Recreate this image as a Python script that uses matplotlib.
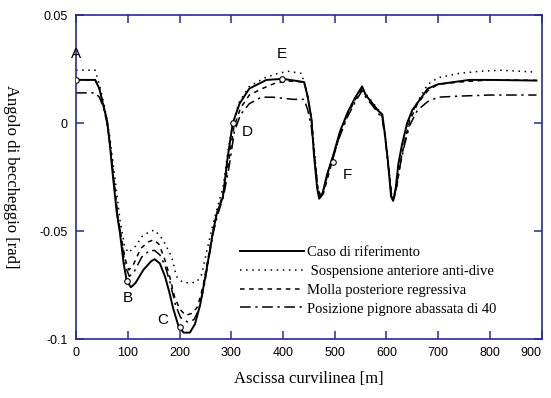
import matplotlib
matplotlib.use('Agg')
import matplotlib.pyplot as plt

# ── Data ───────────────────────────────────────────────────────────────────────
ref_x = [0, 37, 45, 50, 60, 65, 71, 79, 85, 92, 98, 106, 115, 130, 145, 152, 162, 172,
         180, 188, 198, 208, 220, 230, 240, 250, 258, 265, 272, 284, 293, 303, 316, 335,
         368, 400, 441, 448, 455, 460, 466, 470, 476, 485, 497, 510, 525, 540, 553, 560,
         570, 583, 592, 597, 603, 609, 613, 618, 623, 630, 640, 650, 665, 680, 700, 730,
         760, 800, 890]
ref_y = [0.020, 0.020, 0.016, 0.011, 0.001, -0.009, -0.024, -0.042, -0.051, -0.065, -0.073,
         -0.076, -0.074, -0.068, -0.064, -0.063, -0.065, -0.071, -0.078, -0.086, -0.094,
         -0.097, -0.097, -0.093, -0.084, -0.071, -0.060, -0.050, -0.042, -0.034, -0.016,
         0.000, 0.009, 0.016, 0.020, 0.0205, 0.019, 0.012, 0.002, -0.015, -0.030, -0.035,
         -0.033, -0.024, -0.015, -0.004, 0.005, 0.012, 0.017, 0.013, 0.010, 0.006, 0.004,
         -0.005, -0.018, -0.034, -0.036, -0.030, -0.019, -0.010, 0.000, 0.006, 0.011,
         0.016, 0.018, 0.019, 0.020, 0.020, 0.0197]

dive_x = [0, 37, 45, 55, 65, 75, 85, 94, 101, 115, 129, 145, 152, 168, 185, 194, 206,
          220, 233, 243, 252, 262, 272, 284, 293, 303, 316, 335, 365, 390, 410, 436, 446,
          455, 462, 468, 474, 480, 490, 500, 512, 526, 540, 553, 562, 572, 585, 592, 598,
          604, 610, 614, 620, 627, 635, 645, 660, 680, 700, 740, 780, 820, 890]
dive_y = [0.0245, 0.0245, 0.018, 0.008, -0.006, -0.025, -0.045, -0.057, -0.060, -0.057,
          -0.052, -0.050, -0.0495, -0.054, -0.062, -0.071, -0.0737, -0.074, -0.0737,
          -0.070, -0.060, -0.0495, -0.040, -0.030, -0.014, 0.000, 0.010, 0.017, 0.021,
          0.023, 0.024, 0.023, 0.014, 0.002, -0.016, -0.031, -0.034, -0.030, -0.020,
          -0.013, -0.004, 0.005, 0.011, 0.016, 0.013, 0.010, 0.006, 0.003, -0.007,
          -0.020, -0.033, -0.035, -0.028, -0.018, -0.008, 0.002, 0.010, 0.018, 0.021,
          0.023, 0.024, 0.0245, 0.0236]

spring_x = [0, 37, 45, 50, 60, 65, 72, 80, 87, 95, 102, 110, 125, 140, 150, 160, 170,
            180, 190, 200, 212, 225, 235, 245, 255, 263, 272, 284, 295, 305, 318, 335,
            360, 385, 410, 441, 448, 455, 461, 467, 473, 479, 488, 497, 510, 525, 540,
            553, 560, 570, 583, 592, 598, 604, 610, 614, 620, 627, 635, 645, 660, 680,
            700, 740, 800, 890]
spring_y = [0.020, 0.020, 0.016, 0.011, 0.001, -0.009, -0.024, -0.042, -0.052, -0.063,
            -0.068, -0.066, -0.058, -0.055, -0.054, -0.056, -0.062, -0.070, -0.080,
            -0.086, -0.089, -0.088, -0.085, -0.076, -0.063, -0.052, -0.042, -0.033,
            -0.018, -0.002, 0.007, 0.013, 0.016, 0.0185, 0.0195, 0.019, 0.012, 0.002,
            -0.015, -0.030, -0.035, -0.032, -0.024, -0.016, -0.005, 0.004, 0.011, 0.016,
            0.013, 0.010, 0.006, 0.003, -0.007, -0.020, -0.034, -0.036, -0.029, -0.018,
            -0.009, 0.001, 0.009, 0.015, 0.018, 0.019, 0.020, 0.0198]

pinion_x = [0, 37, 45, 52, 60, 65, 72, 80, 87, 95, 103, 112, 127, 142, 152, 162, 172,
            182, 192, 202, 215, 228, 238, 248, 257, 265, 273, 285, 296, 306, 318, 335,
            358, 380, 420, 441, 448, 455, 461, 467, 473, 479, 488, 497, 510, 525, 540,
            553, 560, 570, 583, 592, 598, 604, 610, 614, 620, 627, 635, 645, 660, 680,
            700, 740, 800, 890]
pinion_y = [0.014, 0.014, 0.012, 0.008, 0.000, -0.009, -0.024, -0.042, -0.053, -0.066,
            -0.071, -0.069, -0.062, -0.059, -0.059, -0.061, -0.066, -0.074, -0.084,
            -0.090, -0.092, -0.091, -0.086, -0.075, -0.062, -0.051, -0.043, -0.034,
            -0.020, -0.004, 0.004, 0.009, 0.012, 0.012, 0.011, 0.011, 0.006, -0.002,
            -0.016, -0.030, -0.034, -0.031, -0.022, -0.016, -0.006, 0.003, 0.010, 0.015,
            0.012, 0.009, 0.005, 0.002, -0.008, -0.021, -0.034, -0.035, -0.029, -0.019,
            -0.010, -0.001, 0.006, 0.010, 0.012, 0.0125, 0.013, 0.013]

point_labels = ['A', 'B', 'C', 'D', 'E', 'F']
point_x = [0, 98, 200, 303, 399, 497]
point_y = [0.020, -0.073, -0.0945, 0.000, 0.0205, -0.018]
label_x = [0, 100, 168, 331, 397, 524]
label_y = [0.032, -0.081, -0.0912, -0.0042, 0.032, -0.024]

series_names = ['Caso di riferimento', ' Sospensione anteriore anti-dive',
                'Molla posteriore regressiva', 'Posizione pignore abassata di 40']

# ── Plot ───────────────────────────────────────────────────────────────────────
navy = '#2b2b8f'
serif = 'Liberation Serif'
sans = 'Liberation Sans'

fig = plt.figure(figsize=(5.51, 3.98), dpi=100)
ax = fig.add_axes([0.138, 0.148, 0.845, 0.814])

ax.plot(ref_x, ref_y, color='black', lw=1.4, ls='-', label=series_names[0])
ax.plot(dive_x, dive_y, color='black', lw=1.1, ls=(0, (1, 3)), label=series_names[1])
ax.plot(spring_x, spring_y, color='black', lw=1.1, ls=(0, (3, 3)), label=series_names[2])
ax.plot(pinion_x, pinion_y, color='black', lw=1.1, ls=(0, (7, 3, 1.5, 3)), label=series_names[3])

ax.plot(point_x, point_y, 'o', ms=4, mfc='white', mec='black', mew=0.8, zorder=5)
for lab, lx, ly in zip(point_labels, label_x, label_y):
    ax.text(lx, ly, lab, fontsize=11, family=sans, ha='center', va='center')

ax.set_xlim(0, 900)
ax.set_ylim(-0.1, 0.05)
ax.set_xticks(range(0, 901, 100))
ax.set_yticks([-0.1, -0.05, 0, 0.05])
ax.set_yticklabels(['-0.1', '-0.05', '0', '0.05'])

for s in ax.spines.values():
    s.set_color(navy)
    s.set_linewidth(1.2)
ax.tick_params(direction='in', length=6, width=1.1, color=navy, top=True, right=True,
               labelsize=9, pad=6)
for t in ax.get_xticklabels() + ax.get_yticklabels():
    t.set_family(sans)
# keep the last x label inside the picture
ax.get_xticklabels()[-1].set_horizontalalignment('right')
ax.get_xticklabels()[-1].set_x(ax.get_xticklabels()[-1].get_position()[0])

ax.set_xlabel('Ascissa curvilinea [m]', family=serif, fontsize=12, labelpad=8)
ax.set_ylabel('Angolo di beccheggio [rad]', family=serif, fontsize=12, rotation=270,
              labelpad=26, va='bottom')

ax.legend(loc='upper left', bbox_to_anchor=(0.34, 0.305), frameon=False,
          prop={'family': serif, 'size': 10.5}, handlelength=4.4, handletextpad=0.2,
          labelspacing=0.38, borderaxespad=0)

fig.savefig('out.png', dpi=100)
